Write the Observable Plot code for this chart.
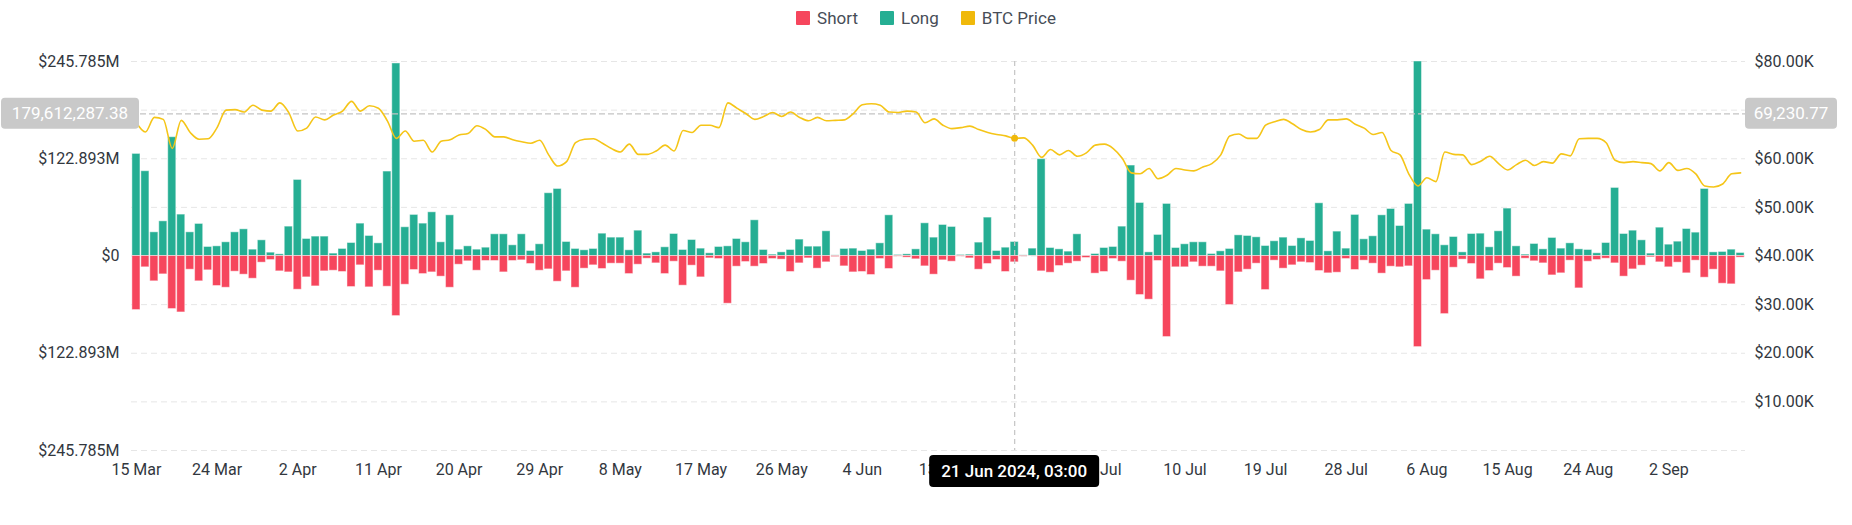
<!DOCTYPE html>
<html>
<head>
<meta charset="utf-8">
<script src="https://cdn.jsdelivr.net/npm/d3@7"></script>
<script src="https://cdn.jsdelivr.net/npm/@observablehq/plot@0.6"></script>
<style>
  html, body { margin: 0; padding: 0; background: #fff; overflow: hidden; }
  #legend { height: 36px; display: flex; justify-content: center; align-items: center; gap: 22px;
            font-family: Roboto, sans-serif; font-size: 17px; color: #474d57; }
  .item { display: flex; align-items: center; gap: 7px; }
  .sw { width: 14px; height: 14px; border-radius: 1px; display: inline-block; }
</style>
</head>
<body>
<div id="legend"></div>
<div id="chart"></div>
<script>
// ---- data ----
const startDate = "2024-03-15";
const dayCount = 180;

// Long liquidations, million USD
const longM = [
129.0,107.1,29.9,43.8,150.1,52.3,29.9,40.5,11.4,12.2,
17.3,29.9,33.7,8.0,19.8,4.2,2.1,37.1,96.1,21.5,
24.5,24.5,3.0,8.9,16.4,40.9,25.3,16.0,106.7,243.3,
36.3,51.9,40.9,55.2,17.3,51.4,8.0,12.2,8.0,10.5,
27.4,27.4,13.5,27.4,6.3,14.8,79.3,84.7,17.7,8.9,
7.2,8.9,28.2,23.2,23.2,7.2,32.0,3.0,4.6,11.0,
27.8,7.6,20.2,9.3,3.4,11.4,12.2,21.5,17.3,45.1,
7.6,1.7,4.6,7.6,20.7,11.8,11.8,31.2,0.8,8.9,
9.3,6.3,8.0,16.0,51.4,1.3,2.1,8.4,41.3,23.2,
39.2,36.7,1.3,1.7,16.9,48.5,6.3,10.5,17.7,0.8,
9.3,122.3,10.1,8.4,5.5,27.4,0.4,2.5,10.1,11.4,
37.1,114.3,67.0,4.6,26.6,65.8,10.1,14.8,17.3,17.3,
2.5,5.9,8.9,26.1,25.3,23.6,12.6,18.6,23.2,12.6,
22.3,19.0,66.6,5.9,30.8,9.3,51.9,21.1,24.9,51.4,
59.4,37.9,65.8,245.785,33.3,27.4,13.5,24.0,4.6,27.8,
28.2,11.0,31.2,59.9,12.2,1.7,15.2,8.4,22.8,9.3,
16.0,8.4,7.6,3.4,16.4,86.0,27.8,32.0,19.8,3.0,
35.8,14.3,18.1,34.1,29.5,84.7,4.6,5.1,8.0,3.8
];

// Short liquidations, million USD
const shortM = [
68.3,14.3,32.0,23.2,67.0,71.3,17.3,32.0,18.1,37.9,
40.1,19.8,23.6,28.7,8.4,5.1,19.4,20.7,42.6,27.0,
38.4,19.4,18.6,20.2,39.2,11.8,39.6,18.6,38.8,75.9,
36.3,17.7,22.8,20.7,26.1,40.1,11.0,6.7,18.6,6.3,
6.3,20.7,6.3,5.5,10.1,18.6,16.9,32.5,19.4,40.1,
16.0,11.8,16.4,9.7,9.7,22.8,11.0,3.4,9.3,22.8,
7.2,37.5,12.2,27.0,3.0,3.8,60.3,13.5,7.6,13.5,
10.1,3.8,4.6,20.2,9.3,3.0,16.0,8.0,1.3,13.1,
20.7,20.2,24.0,3.8,16.4,0.8,2.1,4.2,13.1,23.6,
5.5,7.2,0.8,3.0,17.3,10.1,5.1,20.2,8.0,0.8,
0.3,19.4,21.1,12.6,9.7,7.2,2.5,22.3,20.2,3.8,
7.2,31.2,49.3,55.2,6.3,102.4,14.3,14.3,8.0,13.5,
13.5,19.4,62.0,20.7,17.3,9.7,43.0,5.9,16.0,11.8,
8.0,8.9,19.0,21.9,21.1,3.8,17.7,5.9,9.7,22.3,
13.5,14.3,13.1,115.1,30.4,18.6,73.4,14.8,4.6,10.1,
29.5,19.0,9.7,15.2,26.1,3.4,6.7,9.3,24.5,21.9,
5.9,40.9,7.2,5.1,3.4,9.3,26.1,16.9,12.2,1.7,
8.0,14.3,8.4,21.9,5.9,27.4,17.3,35.0,35.8,2.1
];

// BTC price, thousand USD
const priceK = [
67.4,65.5,68.5,68.1,62.1,67.9,65.4,64.0,64.1,66.4,
70.0,70.1,69.6,71.0,70.0,69.8,71.5,69.5,65.7,66.3,
68.6,68.0,69.0,69.8,71.8,69.8,70.9,70.4,67.8,64.2,
65.7,63.6,63.8,61.4,63.6,63.9,64.9,65.2,66.8,66.0,
64.5,64.5,63.9,63.5,63.2,63.8,60.8,58.5,59.4,63.3,
64.0,64.1,63.2,62.1,61.4,63.0,60.9,60.9,61.6,62.8,
61.6,65.8,65.4,66.9,66.9,66.4,71.5,70.4,69.3,68.1,
68.7,69.5,68.7,69.6,68.5,67.8,68.5,67.8,67.9,68.0,
69.3,71.1,71.3,71.0,69.6,69.5,69.8,69.6,67.4,68.2,
66.9,66.2,66.4,66.7,66.0,65.4,65.0,64.7,64.2,64.3,
62.8,60.3,61.9,60.8,61.7,60.5,61.2,62.8,63.0,62.1,
60.1,57.1,56.9,58.0,55.9,56.6,58.0,57.7,57.5,58.3,
59.0,60.8,64.7,65.1,64.2,64.2,66.9,67.6,68.1,67.2,
66.0,65.5,66.0,68.0,68.0,68.2,67.1,66.3,65.0,65.4,
61.7,60.8,56.8,54.4,56.1,55.3,61.4,60.9,60.8,58.8,
59.5,60.5,59.0,57.7,58.8,59.7,58.6,59.4,59.1,61.0,
60.6,64.1,64.2,64.2,63.3,59.7,59.2,59.4,59.2,59.0,
57.5,59.2,57.6,58.0,56.9,54.4,54.2,54.8,56.9,57.1
];

const leftTicksM = [-245.785, -122.893, 0, 122.893, 245.785];
// 70K is hidden under the hover label in the reference
const rightTicksK = [10, 20, 30, 40, 50, 60, 80];
const gridTicksK = [0, 10, 20, 30, 40, 50, 60, 70, 80];
// 22 Jun is fully hidden under the hover tooltip in the reference
const hiddenTick = "2024-06-22";
const hoverDate = "2024-06-21";
const hoverLabel = "21 Jun 2024, 03:00";
const hoverPrice = 69230.77;
const hoverLeftLabel = "179,612,287.38";
const hoverRightLabel = "69,230.77";
const seriesNames = ["Short", "Long", "BTC Price"];
const seriesColors = ["#f6465d", "#25ae93", "#f0b90b"];

// ---- build ----
const MAX = 245.785e6;
const priceToY = p => (p - 40000) / 40000 * MAX;   // right axis 0..80K onto left axis -MAX..MAX
const yToPrice = v => v / MAX * 40000 + 40000;

const start = new Date(startDate + "T00:00:00Z");
const dates = d3.utcDay.range(start, d3.utcDay.offset(start, dayCount)).map(d => d3.utcFormat("%Y-%m-%d")(d));
const rows = dates.map((date, i) => ({
  date, long: longM[i] * 1e6, short: shortM[i] * 1e6, price: priceK[i] * 1000, priceY: priceToY(priceK[i] * 1000)
}));
const xTicks = dates.filter((d, i) => i % 9 === 0 && d !== hiddenTick);
const fmtDay = d3.utcFormat("%-d %b");

// legend
const legend = document.getElementById("legend");
seriesNames.forEach((n, i) => {
  const it = document.createElement("div"); it.className = "item";
  it.innerHTML = `<span class="sw" style="background:${seriesColors[i]}"></span><span>${n}</span>`;
  legend.appendChild(it);
});

const chart = Plot.plot({
  width: 1852,
  height: 489,
  marginTop: 25,
  marginBottom: 75,
  marginLeft: 131,
  marginRight: 107,
  style: { fontFamily: "Roboto, sans-serif", fontSize: "16px", color: "#32373e", background: "#fff", overflow: "visible" },
  x: { type: "band", domain: dates, padding: 0.1, axis: null },
  y: { domain: [-MAX, MAX], axis: null },
  marks: [
    Plot.ruleY(gridTicksK.map(k => priceToY(k * 1000)), { stroke: "#e6e6e6", strokeDasharray: "6,4", strokeWidth: 1 }),
    Plot.barY(rows, { x: "date", y: "long", fill: seriesColors[1], stroke: "#fff", strokeOpacity: 0.45, strokeWidth: 1 }),
    Plot.barY(rows, { x: "date", y: d => -d.short, fill: seriesColors[0], stroke: "#fff", strokeOpacity: 0.45, strokeWidth: 1 }),
    Plot.ruleX([hoverDate], { stroke: "#c4c4c4", strokeDasharray: "5,4", strokeWidth: 1.2 }),
    Plot.ruleY([priceToY(hoverPrice)], { stroke: "#c4c4c4", strokeDasharray: "6,3", strokeWidth: 1.4 }),
    Plot.line(rows, { x: "date", y: "priceY", stroke: "#f5c518", strokeWidth: 1.6, curve: "monotone-x" }),
    Plot.dot(rows.filter(d => d.date === hoverDate), { x: "date", y: "priceY", r: 3.5, fill: "#f0b90b" }),
    Plot.axisY({ anchor: "left", ticks: leftTicksM.map(v => v * 1e6), label: null, tickSize: 0, tickPadding: 12,
      tickFormat: v => v === 0 ? "$0" : "$" + d3.format(".3f")(Math.abs(v) / 1e6) + "M" }),
    Plot.axisY({ anchor: "right", ticks: rightTicksK.map(k => priceToY(k * 1000)), label: null, tickSize: 0, tickPadding: 9,
      tickFormat: v => "$" + d3.format(".2f")(Math.round(yToPrice(v)) / 1000) + "K" }),
    Plot.axisX({ ticks: xTicks, label: null, tickSize: 0, tickPadding: 13, tickFormat: d => fmtDay(new Date(d + "T00:00:00Z")) })
  ]
});
document.getElementById("chart").appendChild(chart);

// crosshair labels, positioned with the chart's own scales
const sx = chart.scale("x"), sy = chart.scale("y");
const svg = d3.select(chart);
const hy = sy.apply(priceToY(hoverPrice));
const hx = sx.apply(hoverDate) + sx.bandwidth / 2;
const boxH = 31;
function box(x, y, w, h, fill, text, weight) {
  const g = svg.append("g");
  g.append("rect").attr("x", x).attr("y", y).attr("width", w).attr("height", h).attr("rx", 4).attr("fill", fill);
  g.append("text").attr("x", x + w / 2).attr("y", y + h / 2).attr("text-anchor", "middle")
    .attr("dominant-baseline", "central").attr("fill", "#fff").attr("font-size", 17)
    .attr("font-weight", weight).attr("font-family", "Roboto, sans-serif").text(text);
}
box(1, hy - boxH / 2, 138, boxH, "#c9c9c9", hoverLeftLabel, 400);
box(1745, hy - boxH / 2, 92, boxH, "#c9c9c9", hoverRightLabel, 400);
box(hx - 85, 419, 170, 32, "#000", hoverLabel, 500);
</script>
</body>
</html>
